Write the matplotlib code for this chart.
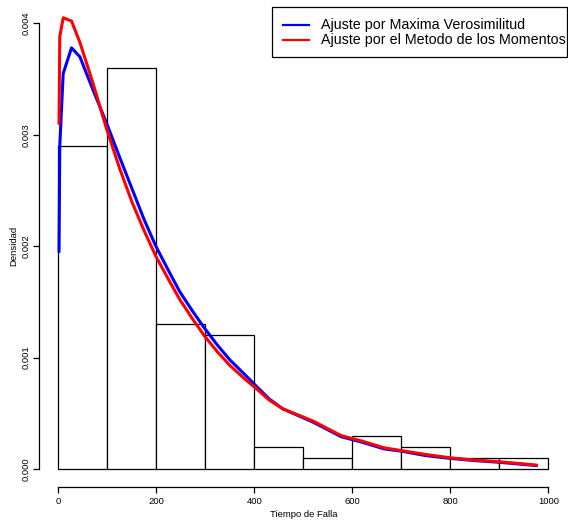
import matplotlib
matplotlib.use("Agg")
import matplotlib.pyplot as plt
import numpy as np
from matplotlib.lines import Line2D
from matplotlib.patches import Rectangle

plt.rcParams["font.family"] = ["Liberation Sans", "DejaVu Sans"]

# histogram (density), bins of width 100
bin_edges = [0, 100, 200, 300, 400, 500, 600, 700, 800, 900, 1000]
densidad = [0.0029, 0.0036, 0.0013, 0.0012, 0.0002, 0.0001, 0.0003, 0.0002, 0.0001, 0.0001]

# fitted densities evaluated at the sorted failure times
tiempos = [1.5, 3, 10, 27, 44, 71, 98, 125, 150, 175, 199, 225, 248, 275,
           299, 325, 350, 380, 407, 430, 458, 520, 577, 620, 665, 700, 750,
           800, 850, 900, 976]
dens_mv = [0.00195, 0.0029, 0.00355, 0.00378, 0.00370, 0.00340, 0.00311,
           0.00280, 0.00252, 0.00224, 0.00200, 0.00178, 0.00159, 0.00141,
           0.00126, 0.00111, 0.00098, 0.00085, 0.00073, 0.00063, 0.00054,
           0.00042, 0.00029, 0.00024, 0.00018, 0.00016, 0.00012, 0.000095,
           0.000075, 0.00006, 0.00003]
dens_mom = [0.00310, 0.00388, 0.00405, 0.00402, 0.00383, 0.00346, 0.00306,
            0.00270, 0.00240, 0.00214, 0.00191, 0.00170, 0.00152, 0.00134,
            0.00119, 0.00105, 0.00093, 0.00081, 0.00071, 0.00062, 0.00054,
            0.00043, 0.00030, 0.00025, 0.00019, 0.000165, 0.00013, 0.00010,
            0.00008, 0.000065, 0.000035]

etiquetas = ["Ajuste por Maxima Verosimilitud",
             "Ajuste por el Metodo de los Momentos"]
colores = ["#0000ff", "#ff0000"]

W, H = 568, 520
fig = plt.figure(figsize=(W / 100, H / 100), dpi=100)
ax = fig.add_axes([38.7 / W, 33.2 / H, 529.2 / W, 481.3 / H])

edges = np.array(bin_edges)
ax.bar(edges[:-1], densidad, width=np.diff(edges), align="edge",
       facecolor="white", edgecolor="black", linewidth=0.9, zorder=1)

for ys, c in zip([dens_mv, dens_mom], colores):
    ax.plot(tiempos, ys, color=c, lw=2.2, solid_capstyle="round",
            solid_joinstyle="round", zorder=3)

ax.set_xlim(-40, 1040)
ax.set_ylim(-0.00016, 0.00416)

# R-style axes
for s in ("top", "right"):
    ax.spines[s].set_visible(False)
ax.spines["left"].set_bounds(0, 0.004)
ax.spines["bottom"].set_bounds(0, 1000)
for s in ("left", "bottom"):
    ax.spines[s].set_linewidth(0.9)
ax.set_xticks([0, 200, 400, 600, 800, 1000])
ax.set_yticks([0, 0.001, 0.002, 0.003, 0.004])
ax.set_yticklabels(["0.000", "0.001", "0.002", "0.003", "0.004"],
                   rotation=90, va="center")
ax.tick_params(axis="both", length=4.3, width=0.9, labelsize=6.8)
ax.tick_params(axis="y", pad=1.5)
ax.tick_params(axis="x", pad=3)

ax.set_xlabel("Tiempo de Falla", fontsize=6.8, labelpad=3.2)
ax.set_ylabel("Densidad", fontsize=6.8, labelpad=2.5)

# legend drawn R-style (tight box at top right)
def fx(px):
    return px / W

def fy(py):
    return 1 - py / H

fig.patches.append(Rectangle((fx(272), fy(57.3)), fx(567) - fx(272),
                             fy(7.3) - fy(57.3), transform=fig.transFigure,
                             facecolor="white", edgecolor="black", lw=0.9,
                             zorder=5))
for row_y, lab, c in zip([24.7, 40.0], etiquetas, colores):
    fig.lines.append(Line2D([fx(282.7), fx(309.3)], [fy(row_y), fy(row_y)],
                            transform=fig.transFigure, color=c, lw=1.6,
                            zorder=6))
    fig.text(fx(321), fy(row_y), lab, fontsize=10.3, va="center", ha="left",
             zorder=6)

fig.savefig("out.png", dpi=100)
